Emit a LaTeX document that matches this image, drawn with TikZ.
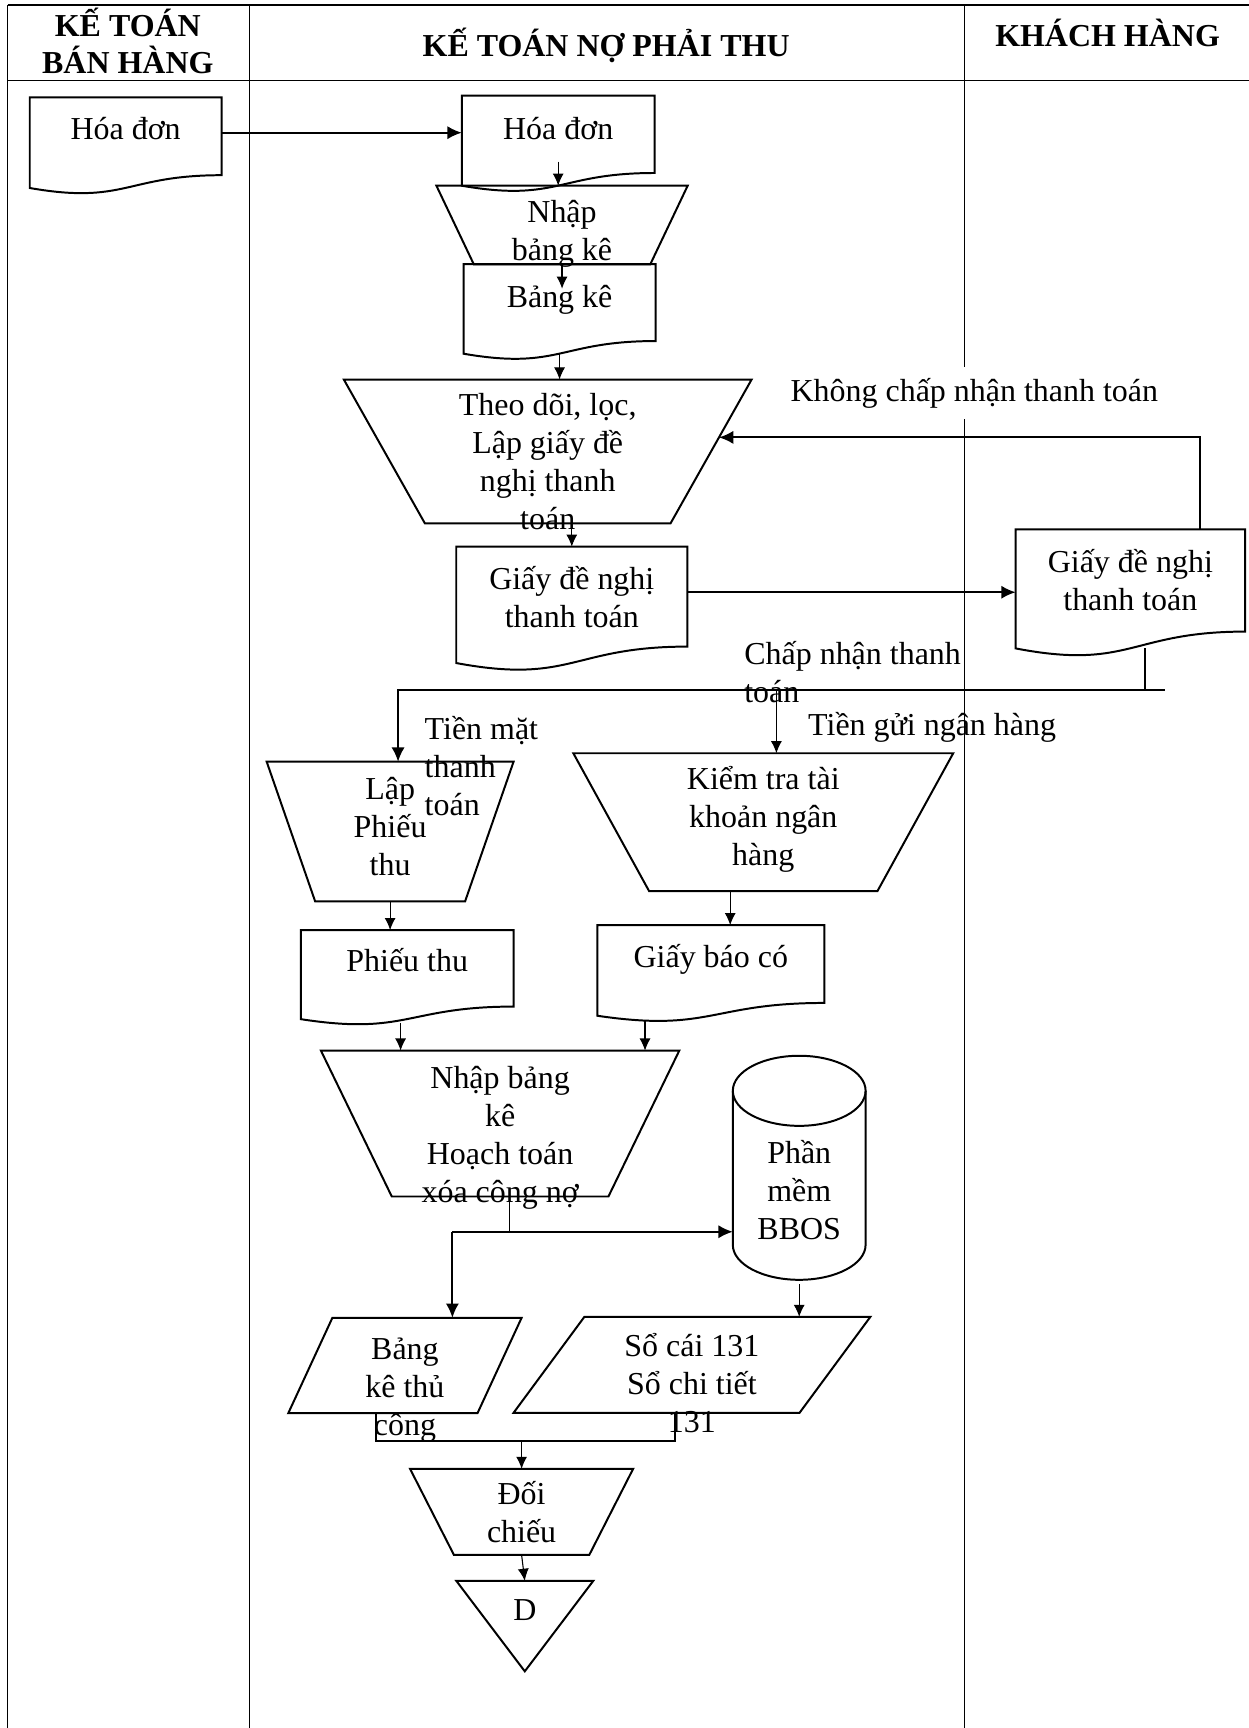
\documentclass[tikz,border=0pt]{standalone}
\usepackage{fontspec}
\setmainfont{Liberation Serif}
\usetikzlibrary{shapes.geometric, arrows.meta, positioning, calc}
% text of a shape: no size of its own, raised by #1 pt
\newcommand{\tx}[2][0]{\makebox[0pt]{\smash{\raisebox{#1pt}{\begin{tabular}{@{}c@{}}#2\end{tabular}}}}}
\tikzstyle{shapebox} = [rectangle, inner sep=0pt, outer sep=0pt]
\tikzstyle{docu} = [shapebox, anchor=north west]
\tikzstyle{outline} = [line width=0.9pt]
\tikzstyle{head} = [font=\fontsize{14.5}{16.5}\selectfont\bfseries, align=center, inner sep=0pt]
\tikzstyle{note} = [align=left, inner sep=1pt]
\tikzstyle{tableline} = [line width=0.5pt]
\tikzstyle{link} = [line width=0.9pt]
\tikzstyle{thinlink} = [line width=0.5pt]
\tikzstyle{arrow} = [line width=0.9pt, ->, >={Latex[length=6.5pt, width=6pt]}]
\tikzstyle{steparrow} = [line width=0.5pt, ->, >={Latex[length=5.5pt, width=5pt]}]

\begin{document}
\begin{tikzpicture}[x=0.5pt, y=-0.5pt,
    every node/.style={font=\fontsize{14.5}{17.2}\selectfont}]
    \useasboundingbox (0,0) rectangle (1133,1568);

    % swimlanes
    \draw [tableline] (7,4.5) -- (1133,4.5);
    \draw [tableline] (7,73) -- (1133,73);
    \draw [tableline] (7,4.5) -- (7,1568);
    \draw [tableline] (226,4.5) -- (226,1568);
    \draw [tableline] (875,4.5) -- (875,1568);
    \node (hban) [head] at (116,37) {KẾ TOÁN\\BÁN HÀNG};
    \node (hno) [head] at (550,41) {KẾ TOÁN NỢ PHẢI THU};
    \node (hkhach) [head] at (1005,29.5) {KHÁCH HÀNG};

    % documents
    \node (hd1) [docu, minimum width=87pt, minimum height=44pt] at (27,88.4)
        {\tx[2.7]{Hóa đơn}};
    \node (hd2) [docu, minimum width=87.5pt, minimum height=43.75pt] at (419,86.8)
        {\tx[2]{Hóa đơn}};
    \node (bk) [docu, minimum width=87.15pt, minimum height=43.5pt] at (420.6,239.7)
        {\tx[2.15]{Bảng kê}};
    \node (gd1) [docu, minimum width=104.85pt, minimum height=56.5pt] at (414,496.1)
        {\tx[-0.1]{Giấy đề nghị\\thanh toán}};
    \node (gd2) [docu, minimum width=104.1pt, minimum height=57.8pt] at (921.6,480.4)
        {\tx[0.5]{Giấy đề nghị\\thanh toán}};
    \node (pt) [docu, minimum width=96.5pt, minimum height=43.25pt] at (273,844)
        {\tx[2.7]{Phiếu thu}};
    \node (gbc) [docu, minimum width=103pt, minimum height=44pt] at (542,839.5)
        {\tx[2.75]{Giấy báo có}};
    \foreach \d in {hd1,hd2,bk,gd1,gd2,pt,gbc}
        \draw [outline] (\d.north west) -- (\d.north east)
            -- ($(\d.north east)!0.802!(\d.south east)$)
            .. controls ($(\d.north)!0.802!(\d.south)$) and ($(\d.north)!1.107!(\d.south)$)
            .. ($(\d.north west)!0.934!(\d.south west)$) -- cycle;

    % manual operations
    \node (nbk) [shapebox, minimum width=114pt, minimum height=35.75pt]
        at (510,204.25) {\tx[-7.4]{Nhập\\bảng kê}};
    \node (theo) [shapebox, minimum width=185pt, minimum height=65.3pt]
        at (497,409.7) {\tx[-9.65]{Theo dõi, lọc,\\Lập giấy đề\\nghị thanh\\toán}};
    \node (lpt) [shapebox, minimum width=112pt, minimum height=63.4pt]
        at (354,754.6) {\tx[-2.7]{Lập\\Phiếu\\thu}};
    \node (ktra) [shapebox, minimum width=172.35pt, minimum height=62.5pt]
        at (692.6,746) {\tx[-2.75]{Kiểm tra tài\\khoản ngân\\hàng}};
    \node (nhap) [shapebox, minimum width=162.6pt, minimum height=66.2pt]
        at (453.8,1019.5) {\tx[-10]{Nhập bảng\\kê\\Hoạch toán\\xóa công nợ}};
    \node (doichieu) [shapebox, minimum width=101.2pt, minimum height=39.05pt]
        at (473.3,1371.9) {\tx[-5.5]{Đối\\chiếu}};
    \node (dd) [shapebox, minimum width=62.15pt, minimum height=41.05pt]
        at (476.2,1475.5) {\tx[2.25]{D}};
    \foreach \n/\o in {nbk/17pt, theo/36.8pt, lpt/22pt, ktra/34.35pt,
                       nhap/32.15pt, doichieu/19.9pt, dd/31.075pt}
        \draw [outline] (\n.north west) -- (\n.north east)
            -- ($(\n.south east)+(-\o,0pt)$) -- ($(\n.south west)+(\o,0pt)$) -- cycle;

    % storage and records
    \node (cyl) [shapebox, minimum width=60.25pt, minimum height=101.65pt]
        at (725.2,1059.65) {\tx[-15.4]{Phần\\mềm\\BBOS}};
    \draw [outline] ($(cyl.north)+(0pt,-15.9pt)$) ellipse [x radius=30.125pt, y radius=15.9pt];
    \draw [outline] ($(cyl.north west)+(0pt,-15.9pt)$) -- ($(cyl.south west)+(0pt,15.9pt)$)
        arc [start angle=180, end angle=360, x radius=30.125pt, y radius=15.9pt]
        -- ($(cyl.north east)+(0pt,-15.9pt)$);
    \node (bktc) [shapebox, minimum width=105.85pt, minimum height=43.25pt]
        at (367.45,1239.05) {\tx[-14.5]{Bảng\\kê thủ\\công}};
    \node (socai) [shapebox, minimum width=161.85pt, minimum height=43.5pt]
        at (627.85,1238.5) {\tx[-13.55]{Sổ cái 131\\Sổ chi tiết\\131}};
    \foreach \n/\o in {bktc/20pt, socai/32.1pt}
        \draw [outline] (\n.south west) -- ($(\n.south east)+(-\o,0pt)$)
            -- (\n.north east) -- ($(\n.north west)+(\o,0pt)$) -- cycle;

    % labels
    \node (khong) [note, fill=white, inner ysep=5pt, anchor=west] at (715,357)
        {Không chấp nhận thanh toán};
    \node (chap) [note, fill=white, inner ysep=5pt, anchor=north west] at (673,572)
        {Chấp nhận thanh\\toán};
    \node (tgnh) [note, anchor=north west] at (731,644) {Tiền gửi ngân hàng};
    \node (tmat) [note, anchor=north west] at (383,648) {Tiền mặt\\thanh\\toán};

    \coordinate (cend) at (1057,626.3);
    \coordinate (tgsplit) at (704.5,626.3);
    \coordinate (j1) at (462.4,1117.7);
    \coordinate (j2) at (410.5,1117.7);
    \coordinate (m1) at (341,1307.3);
    \coordinate (m2) at (612.8,1307.3);

    \draw [arrow] ($(hd1.east)+(0pt,6pt)$) -- ($(hd1.east -| hd2.west)+(0pt,6pt)$);
    \draw [steparrow] ($(hd2.center)+(0pt,-8pt)$) -- (hd2.center |- nbk.north);
    \draw [steparrow] (nbk.south) -- ($(nbk.south)+(0pt,-11pt)$);
    \draw [steparrow] ($(bk.center)+(0pt,-18.75pt)$) -- (bk.center |- theo.north);
    \draw [steparrow] (theo.south -| gd1.north) -- (gd1.north);
    \draw [arrow] ($(gd1.east)+(0pt,7.6pt)$) -- ($(gd1.east -| gd2.west)+(0pt,7.6pt)$);
    \draw [arrow] ($(gd2.north east)+(-20.4pt,0pt)$)
        |- ($(theo.north east)!0.402!(theo.south east)+(-14.8pt,0pt)$);
    \draw [thinlink] ($(gd2.south)+(6.65pt,4pt)$) |- (cend);
    \draw [arrow] (cend) -| ($(lpt.north)+(3.6pt,0pt)$);
    \draw [steparrow] (tgsplit) -- (tgsplit |- ktra.north);
    \draw [steparrow] (lpt.south) -- (lpt.south |- pt.north);
    \draw [steparrow] ($(ktra.south)+(-15pt,0pt)$) -- ($(ktra.south |- gbc.north)+(-15pt,0pt)$);
    \draw [steparrow] ($(pt.center)+(-3pt,-20.4pt)$) -- ($(pt.center |- nhap.north)+(-3pt,0pt)$);
    \draw [steparrow] ($(gbc.center)+(-29.85pt,-21.5pt)$) -- ($(gbc.center |- nhap.north)+(-29.85pt,0pt)$);
    \draw [thinlink] (j1 |- nhap.south) -- (j1);
    \draw [arrow] (j2) -- (j2 |- bktc.north);
    \draw [arrow] (j2) -- (j2 -| cyl.west);
    \draw [steparrow] ($(cyl.south)+(0pt,-2pt)$) -- (cyl.south |- socai.north);
    \draw [link] (m1 |- bktc.south) -- (m1) -- (m2) -- (m2 |- socai.south);
    \draw [steparrow] (doichieu.north |- m1) -- (doichieu.north);
    \draw [steparrow] (doichieu.south) -- (dd.north);
\end{tikzpicture}
\end{document}
